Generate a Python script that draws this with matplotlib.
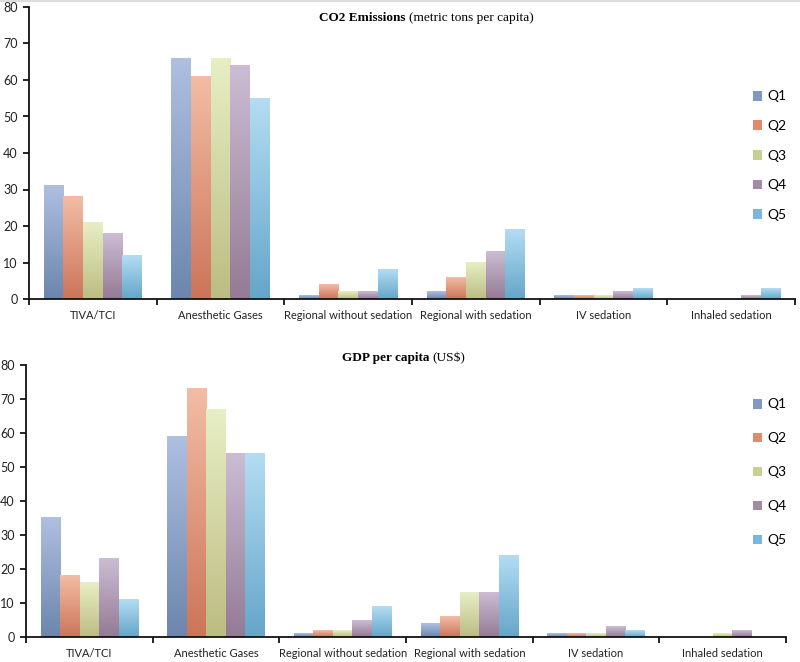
import numpy as np
import matplotlib
matplotlib.use("Agg")
import matplotlib.pyplot as plt
from matplotlib.patches import Patch
from matplotlib.colors import LinearSegmentedColormap

categories = ["TIVA/TCI", "Anesthetic Gases", "Regional without sedation",
              "Regional with sedation", "IV sedation", "Inhaled sedation"]
series = ["Q1", "Q2", "Q3", "Q4", "Q5"]

co2_q1 = [31, 66, 1, 2, 1, 0]
co2_q2 = [28, 61, 4, 6, 1, 0]
co2_q3 = [21, 66, 2, 10, 1, 0]
co2_q4 = [18, 64, 2, 13, 2, 1]
co2_q5 = [12, 55, 8, 19, 3, 3]

gdp_q1 = [35, 59, 1, 4, 1, 0]
gdp_q2 = [18, 73, 2, 6, 1, 0]
gdp_q3 = [16, 67, 2, 13, 1, 1]
gdp_q4 = [23, 54, 5, 13, 3, 2]
gdp_q5 = [11, 54, 9, 24, 2, 0]

yticks = [0, 10, 20, 30, 40, 50, 60, 70, 80]

# (top, bottom) gradient colours and legend colour per series
grad = [("#aebfe0", "#6c86ad"),
        ("#f2bca4", "#cc755a"),
        ("#e8eec4", "#bbbd82"),
        ("#cbbcd3", "#957b95"),
        ("#b3dcf3", "#65a6c9")]
legend_cols = ["#7f98c4", "#e0896c", "#c9cf93", "#a58aa8", "#79b8dc"]

plt.rcParams['font.family'] = ['Lato', 'DejaVu Sans']

fig = plt.figure(figsize=(8.0, 6.62), dpi=100)
ax1 = fig.add_axes([29/800, 1-299/662, 766/800, 292/662])
ax2 = fig.add_axes([26/800, 1-637/662, 760/800, 272/662])


def draw(ax, data, title_bold, title_norm, tx, ty, leg_y, leg_sp):
    n = len(categories)
    x = np.arange(n)
    w = 0.154
    for i, vals in enumerate(data):
        bars = ax.bar(x + (i - 2) * w, vals, width=w, color="none",
                      edgecolor="none", zorder=2)
        cmap = LinearSegmentedColormap.from_list("g", [grad[i][1], grad[i][0]])
        for b in bars:
            h = b.get_height()
            if h <= 0:
                continue
            bx = b.get_x()
            bw = b.get_width()
            g = np.linspace(0, 1, 64).reshape(-1, 1)
            ax.imshow(g, extent=[bx, bx + bw, 0, h], origin="lower",
                      aspect="auto", cmap=cmap, zorder=2, interpolation="bilinear")
    ax.set_xlim(-0.5, n - 0.5)
    ax.set_ylim(0, 80)
    ax.set_yticks(yticks)
    ax.set_yticklabels([str(t) for t in yticks], fontsize=9, color="#222222")
    ax.set_xticks(x)
    ax.set_xticklabels(categories, fontsize=8, color="#222222")
    ax.set_xticks(np.arange(n + 1) - 0.5, minor=True)
    ax.tick_params(axis="x", which="major", length=0, pad=8)
    ax.tick_params(axis="x", which="minor", length=4, width=1.2, direction="out")
    ax.tick_params(axis="y", length=4, width=1.2, direction="out", pad=4)
    for s in ["top", "right"]:
        ax.spines[s].set_visible(False)
    for s in ["left", "bottom"]:
        ax.spines[s].set_linewidth(1.3)
        ax.spines[s].set_color("#111111")
    fig.text(tx, ty, title_bold, ha="right", va="center",
             fontfamily="Liberation Serif", fontweight="bold", fontsize=9.5)
    fig.text(tx + 3/800, ty, title_norm, ha="left", va="center",
             fontfamily="Liberation Serif", fontsize=9.6)
    handles = [Patch(facecolor=c, edgecolor="none") for c in legend_cols]
    fig.legend(handles, series, loc="upper left",
               bbox_to_anchor=(740/800, 1 - leg_y/662), frameon=False,
               fontsize=10, handlelength=0.7, handleheight=0.7,
               handletextpad=0.35, labelspacing=leg_sp)


draw(ax1, [co2_q1, co2_q2, co2_q3, co2_q4, co2_q5],
     "CO2 Emissions", "(metric tons per capita)", 406/800, 1 - 18/662, 78, 1.27)
draw(ax2, [gdp_q1, gdp_q2, gdp_q3, gdp_q4, gdp_q5],
     "GDP per capita", "(US$)", 429/800, 1 - 358/662, 386, 1.58)

fig.add_artist(plt.Line2D([0, 1], [1 - 1/662, 1 - 1/662], color="#dddddd", lw=1.5))

fig.savefig("out.png", dpi=100)
